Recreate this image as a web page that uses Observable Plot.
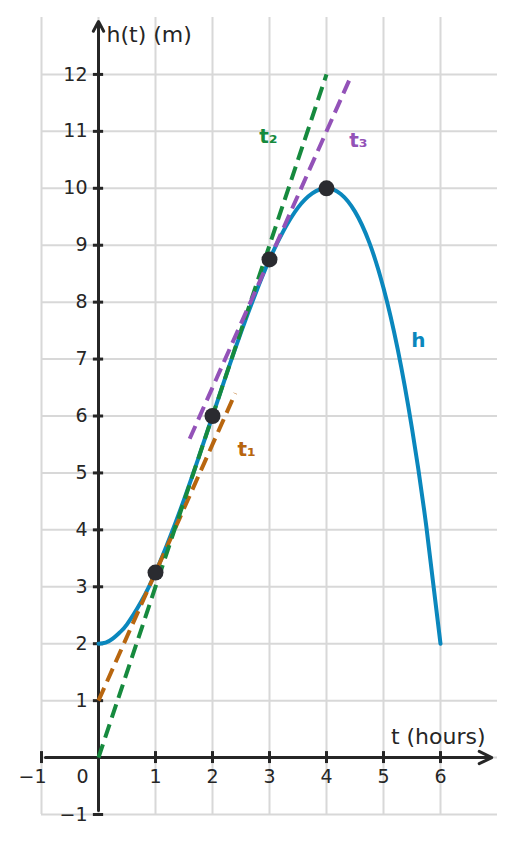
<!DOCTYPE html>
<html><head><meta charset="utf-8">
<script src="https://cdn.jsdelivr.net/npm/d3@7"></script>
<script src="https://cdn.jsdelivr.net/npm/@observablehq/plot@0.6"></script>
<style>html,body{margin:0;padding:0;background:#fff}svg{display:block}</style>
</head><body><div id="chart"></div>
<script>
// Curve h(t)
const tSamples = [0,0.125,0.25,0.375,0.5,0.75,1,1.25,1.5,1.75,2,2.25,2.5,2.75,3,3.25,3.5,3.75,4,4.25,4.5,4.75,5,5.25,5.5,5.75,6];
const hSamples = [2,2.02,2.09,2.2,2.34,2.74,3.25,3.86,4.53,5.25,6,6.75,7.47,8.14,8.75,9.26,9.66,9.91,10,9.9,9.59,9.05,8.25,7.17,5.78,4.07,2];
// Marked points
const markedT = [1,2,3,4];
const markedH = [3.25,6,8.75,10];
// Tangent segments
const tangentNames = ["t₁","t₂","t₃"];
const tangentStartT = [0,0,1.6];
const tangentStartH = [1,0,5.6];
const tangentEndT = [2.4,4,4.4];
const tangentEndH = [6.4,12,11.9];
const tangentColors = ["#b8660f","#168a3e","#9352b8"];
const tangentLabelT = [2.6,2.98,4.56];
const tangentLabelH = [5.41,10.9,10.83];
// Ticks
const xTicks = [-1,1,2,3,4,5,6];
const xPosTicks = [1,2,3,4,5,6];
const xPosTickLabels = ["1","2","3","4","5","6"];
const yTicks = [-1,1,2,3,4,5,6,7,8,9,10,11,12];
const yTickLabels = ["−1","1","2","3","4","5","6","7","8","9","10","11","12"];
const gridX = [-1,0,1,2,3,4,5,6];
const gridY = [-1,0,1,2,3,4,5,6,7,8,9,10,11,12];

const curve = tSamples.map((t,i)=>({t, h:hSamples[i]}));
const marked = markedT.map((t,i)=>({t, h:markedH[i]}));
const tangents = tangentNames.map((n,i)=>({name:n, x1:tangentStartT[i], y1:tangentStartH[i], x2:tangentEndT[i], y2:tangentEndH[i], color:tangentColors[i], lx:tangentLabelT[i], ly:tangentLabelH[i]}));

const ink = "#262626";
const font = "DejaVu Sans, sans-serif";

const chart = Plot.plot({
  width: 514,
  height: 842,
  marginLeft: 41, marginRight: 17, marginTop: 17, marginBottom: 28,
  x: {domain: [-1, 7], axis: null},
  y: {domain: [-1, 13], axis: null},
  style: {fontFamily: font, background: "#fff"},
  marks: [
    Plot.ruleX(gridX, {y1: -1, y2: 13, stroke: "#d8d8d8", strokeWidth: 2}),
    Plot.ruleY(gridY, {x1: -1, x2: 7, stroke: "#d8d8d8", strokeWidth: 2}),
    // axes
    Plot.arrow([0], {x1: -0.93, y1: 0, x2: 6.9, y2: 0, stroke: ink, strokeWidth: 3, headLength: 7, headAngle: 52, inset: 0}),
    Plot.arrow([0], {x1: 0, y1: -0.93, x2: 0, y2: 12.93, stroke: ink, strokeWidth: 3, headLength: 5.5, headAngle: 56, inset: 0}),
    Plot.ruleX(xTicks, {y1: -0.105, y2: 0.105, stroke: ink, strokeWidth: 3}),
    Plot.ruleY(yTicks, {x1: -0.09, x2: 0.09, stroke: ink, strokeWidth: 3}),
    Plot.text(xPosTicks, {x: d=>d, y: 0, text: (d,i)=>xPosTickLabels[i], dy: 19, fontSize: 19, fill: ink}),
    Plot.text(["−1"], {x: -1, y: 0, text: d=>d, dy: 19, dx: -9, fontSize: 19, fill: ink}),
    Plot.text(["0"], {x: 0, y: 0, text: d=>d, dy: 19, dx: -16, fontSize: 19, fill: ink}),
    Plot.text(yTicks, {x: 0, y: d=>d, text: (d,i)=>yTickLabels[i], dx: -11, textAnchor: "end", fontSize: 19, fill: ink}),
    Plot.text(["h(t) (m)"], {x: 0, y: 12.69, text: d=>d, dx: 8, textAnchor: "start", fontSize: 22, fill: ink}),
    Plot.text(["t (hours)"], {x: 6.79, y: 0.37, text: d=>d, textAnchor: "end", fontSize: 22, fill: ink}),
    // curve
    Plot.line(curve, {x: "t", y: "h", stroke: "#0a87bd", strokeWidth: 4, curve: "natural"}),
    // tangents
    Plot.link(tangents, {x1: "x1", y1: "y1", x2: "x2", y2: "y2", stroke: "color", strokeWidth: 4, strokeDasharray: "14,7"}),
    Plot.text(tangents, {x: "lx", y: "ly", text: "name", fill: "color", fontSize: 20, fontWeight: "bold"}),
    Plot.text(["h"], {x: 5.61, y: 7.33, text: d=>d, fill: "#0a87bd", fontSize: 20, fontWeight: "bold"}),
    Plot.dot(marked, {x: "t", y: "h", r: 8, fill: "#2a2b30", stroke: "none"})
  ]
});
document.getElementById("chart").appendChild(chart);
</script>
</body></html>
